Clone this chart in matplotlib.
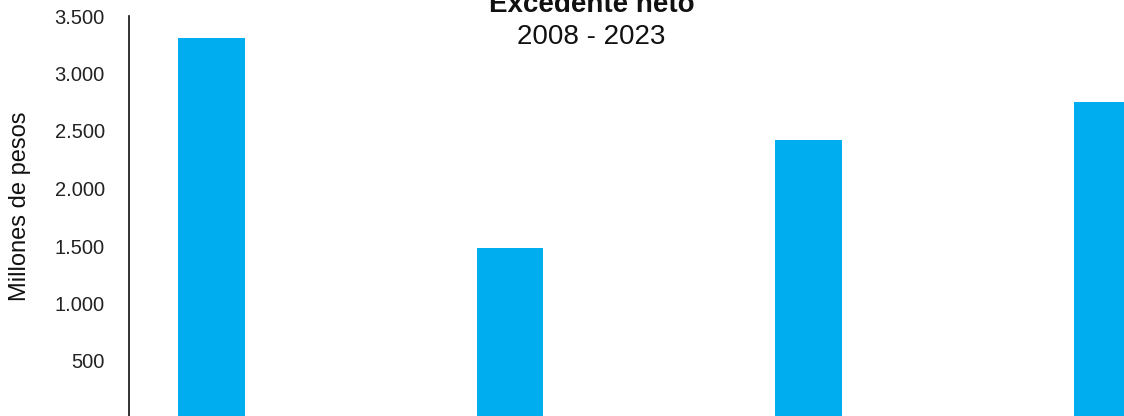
import matplotlib.pyplot as plt
import numpy as np

plt.rcParams['font.family'] = ['Liberation Sans', 'DejaVu Sans']

# Datos (millones de pesos)
categorias = ["A", "B", "C", "D"]
valores = [3310, 1483, 2422, 2752]
ticks_y = [500, 1000, 1500, 2000, 2500, 3000, 3500]
etiquetas_y = ["500", "1.000", "1.500", "2.000", "2.500", "3.000", "3.500"]

fig = plt.figure(figsize=(11.24, 4.16), dpi=100)
# el grafico original esta recortado: el eje se sale por abajo y por la derecha
ax = fig.add_axes([128.5 / 1124, -2.5 / 416, 1127.8 / 1124, 402.5 / 416])

x = np.arange(len(categorias))
ax.bar(x, valores, width=0.224, color="#00AEEF")

ax.set_xlim(-0.278, 3.5)
ax.set_ylim(0, 3500)
ax.set_yticks(ticks_y)
ax.set_yticklabels(etiquetas_y, fontsize=14.5, color="#222222")
ax.tick_params(axis="y", length=0, pad=17)
ax.set_xticks([])

for lado in ["top", "right", "bottom"]:
    ax.spines[lado].set_visible(False)
ax.spines["left"].set_color("#111111")
ax.spines["left"].set_linewidth(1.2)

fig.text(20 / 1124, 210 / 416, "Millones de pesos", rotation=90, fontsize=17,
         ha="center", va="center", color="#111111")

fig.text(591.5 / 1124, 1 - 44 / 416, "2008 - 2023", fontsize=20,
         ha="center", va="baseline", color="#111111")
fig.text(591.5 / 1124, 1 - 12 / 416, "Excedente neto", fontsize=20, fontweight="bold",
         ha="center", va="baseline", color="#111111")

fig.savefig("out.png", dpi=100)
